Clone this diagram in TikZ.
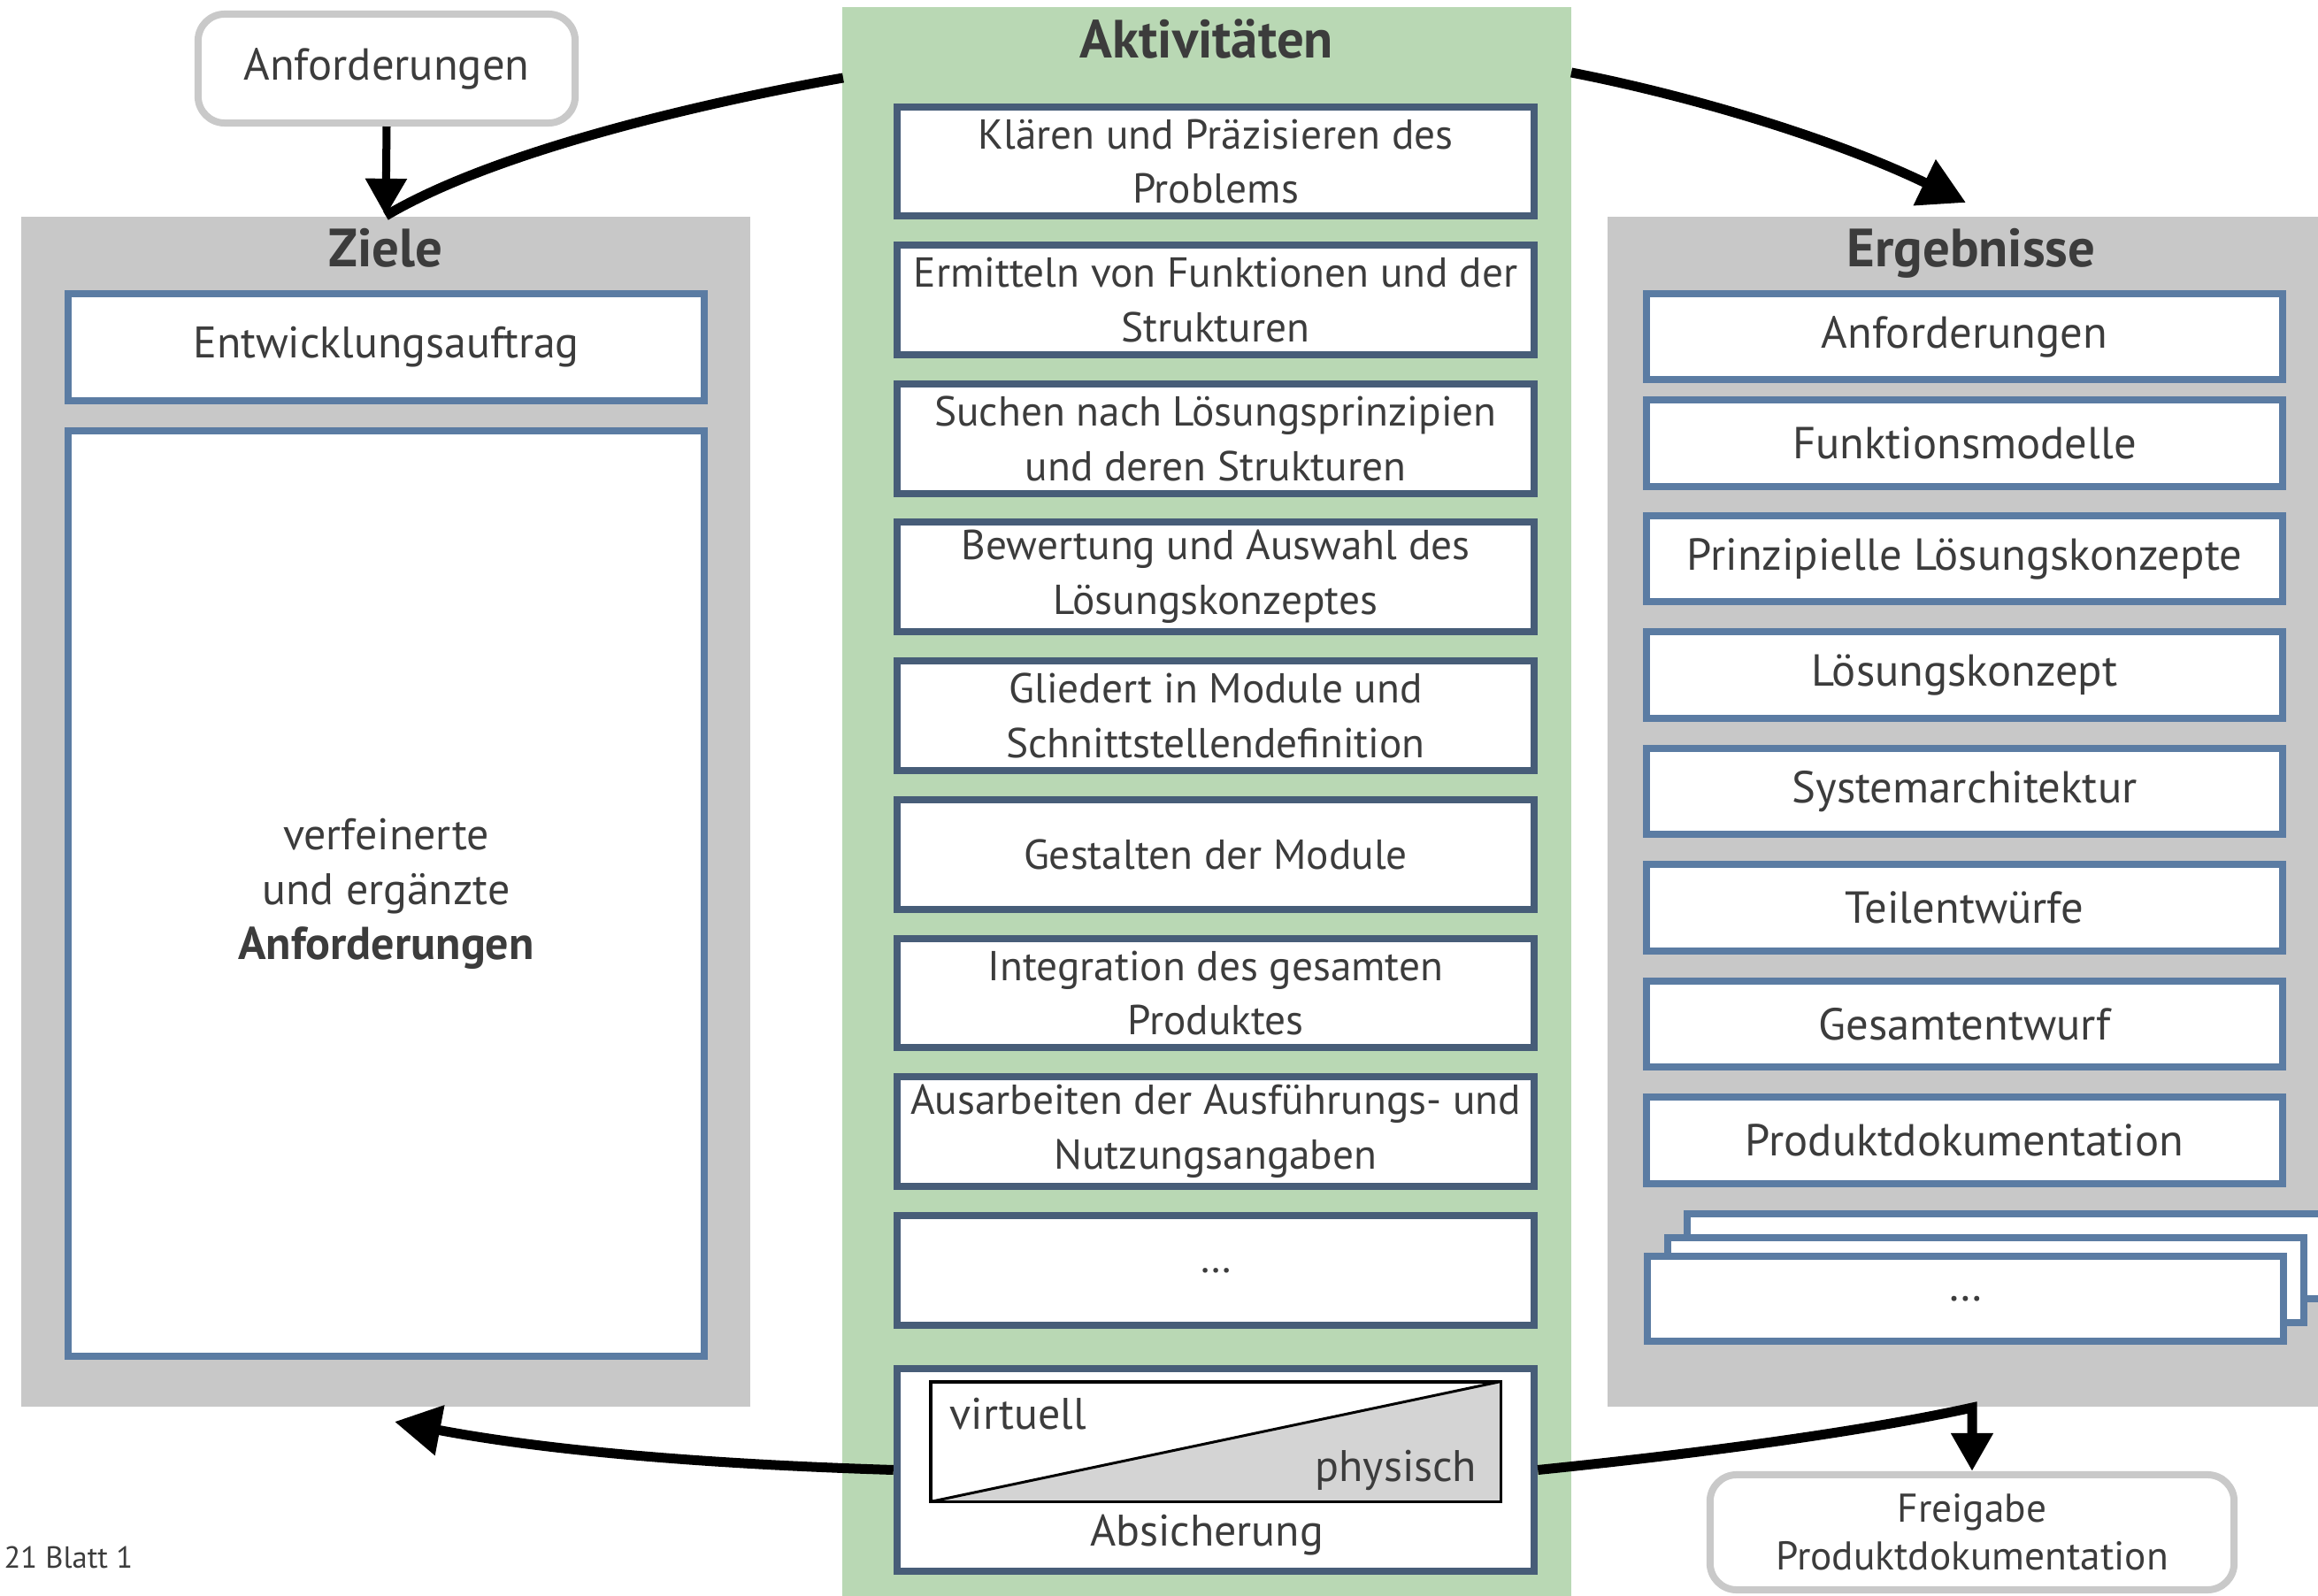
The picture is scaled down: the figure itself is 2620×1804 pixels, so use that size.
\documentclass[tikz,border=0pt]{standalone}
\usepackage{fontspec}
\setmainfont{PT Sans}
\usetikzlibrary{arrows.meta}
\definecolor{mypanelcolor}{HTML}{C8C8C8}
\definecolor{myaktcolor}{HTML}{B9D8B4}
\definecolor{myblue}{HTML}{5B7CA3}
\definecolor{mydarkblue}{HTML}{475D78}
\definecolor{mytextcolor}{HTML}{3C3C3C}
\definecolor{myinputcolor}{HTML}{C9C9C9}
\definecolor{myshadecolor}{HTML}{D4D4D4}

\begin{document}
\begin{tikzpicture}[x=0.01cm, y=-0.01cm,
  mypanel/.style={fill=mypanelcolor, rectangle, inner sep=0pt, minimum width=8.24cm},
  mytitle/.style={anchor=base, text=mytextcolor, font=\fontsize{17.3pt}{20pt}\selectfont\bfseries},
  mytext/.style={text=mytextcolor, align=center, font=\fontsize{14.2pt}{17.6pt}\selectfont},
  mybox/.style={mytext, draw=myblue, line width=0.08cm, fill=white, rectangle, inner sep=0pt, minimum width=7.19cm},
  myergbox/.style={mybox, minimum height=0.97cm, font=\fontsize{14.4pt}{17.6pt}\selectfont},
  myaktbox/.style={mytext, draw=mydarkblue, line width=0.08cm, fill=white, rectangle, inner sep=0pt, minimum width=7.20cm, minimum height=1.23cm, font=\fontsize{13.45pt}{17.6pt}\selectfont},
  myinput/.style={mytext, draw=myinputcolor, line width=0.08cm, fill=white, rounded corners=0.3cm, inner sep=0pt},
  mythin/.style={line width=0.09cm, -{Triangle[length=0.42cm, width=0.45cm]}},
  mycurve/.style={line width=0.11cm},
  mytip/.style={-{Triangle[length=0.52cm, width=0.55cm]}}
]%
\useasboundingbox (0,0) rectangle (2620,1804);%
% panels
\node[mypanel, minimum height=13.45cm] (ziele) at (436, 917.5) {};%
\node[mypanel, minimum height=13.45cm] (ergebnisse) at (2229, 917.5) {};%
\node[mypanel, fill=myaktcolor, minimum height=18.1cm] (akt) at (1364, 914) {};%
\node[mytitle] (zieletitel) at (436, 302) {Ziele};%
\node[mytitle] (ergtitel) at (2228, 302) {Ergebnisse};%
\node[mytitle] (akttitel) at (1364, 66) {Aktivitäten};%
% inputs and outputs
\node[myinput, minimum width=4.26cm, minimum height=1.23cm, font=\fontsize{14.4pt}{17.6pt}\selectfont] (anf) at (437, 77.5) {Anforderungen};%
\node[myinput, minimum width=5.92cm, minimum height=1.30cm, font=\fontsize{12.9pt}{15.4pt}\selectfont] (freigabe) at (2229, 1732) {Freigabe\\Produktdokumentation};%
% Ziele
\node[mybox, minimum height=1.21cm] (auftrag) at (436.5, 392.5) {Entwicklungsauftrag};%
\node[mybox, minimum height=10.46cm] (verfeinert) at (436.5, 1010) {verfeinerte\\und ergänzte\\{\fontsize{14.8pt}{17.6pt}\selectfont\bfseries Anforderungen}};%
% Aktivitaeten
\node[myaktbox] (akt1) at (1374, 182.5) {Klären und Präzisieren des\\Problems};%
\node[myaktbox] (akt2) at (1374, 339) {Ermitteln von Funktionen und der\\Strukturen};%
\node[myaktbox] (akt3) at (1374, 496) {Suchen nach Lösungsprinzipien\\und deren Strukturen};%
\node[myaktbox] (akt4) at (1374, 652) {Bewertung und Auswahl des\\Lösungskonzeptes};%
\node[myaktbox] (akt5) at (1374, 809) {Gliedert in Module und\\Schnittstellendefinition};%
\node[myaktbox] (akt6) at (1374, 966) {Gestalten der Module};%
\node[myaktbox] (akt7) at (1374, 1122.5) {Integration des gesamten\\Produktes};%
\node[myaktbox] (akt8) at (1374, 1279) {Ausarbeiten der Ausführungs- und\\Nutzungsangaben};%
\node[myaktbox] (akt9) at (1374, 1436) {\ldots};%
\node[myaktbox, minimum height=2.29cm] (absich) at (1374, 1661.5) {};%
\node[draw=black, line width=0.03cm, rectangle, inner sep=0pt, minimum width=6.42cm, minimum height=1.33cm] (vp) at (1374, 1629.5) {};%
\fill[myshadecolor] (vp.south west) -- (vp.north east) -- (vp.south east) -- cycle;%
\draw[line width=0.03cm] (vp.south west) -- (vp.north east);%
\draw[line width=0.03cm] (vp.south west) rectangle (vp.north east);%
\node[mytext, anchor=base west, inner sep=0pt] (virtuell) at (1073, 1615) {virtuell};%
\node[mytext, anchor=base east, inner sep=0pt] (physisch) at (1670, 1675) {physisch};%
\node[mytext, anchor=base, inner sep=0pt] (absichtext) at (1364, 1747) {Absicherung};%
% Ergebnisse
\node[myergbox] (erg1) at (2220.5, 380.5) {Anforderungen};%
\node[myergbox] (erg2) at (2220.5, 501) {Funktionsmodelle};%
\node[myergbox] (erg3) at (2220.5, 631.5) {Prinzipielle Lösungskonzepte};%
\node[myergbox] (erg4) at (2220.5, 763) {Lösungskonzept};%
\node[myergbox] (erg5) at (2220.5, 894.5) {Systemarchitektur};%
\node[myergbox] (erg6) at (2220.5, 1026) {Teilentwürfe};%
\node[myergbox] (erg7) at (2220.5, 1157.5) {Gesamtentwurf};%
\node[myergbox] (erg8) at (2220.5, 1289) {Produktdokumentation};%
\node[myergbox, minimum height=0.96cm] (ergc) at (2266.5, 1420) {};%
\node[myergbox, minimum height=0.96cm] (ergb) at (2244.5, 1447) {};%
\node[myergbox, minimum height=0.96cm] (erga) at (2221.5, 1468) {\ldots};%
% connectors
\coordinate (aktlinks) at (953, 88);%
\coordinate (aktrechts) at (1776, 82);%
\coordinate (ergspitze) at (2222, 229);%
\coordinate (zielespitze) at (446, 1607);%
\draw[mythin] (anf.south) -- (ziele.north);%
\draw[mycurve] (aktlinks) .. controls (800, 115) and (560, 170) .. (ziele.north);%
\draw[mycurve, mytip] (aktrechts) .. controls (1920, 110) and (2080, 160) .. (ergspitze);%
\draw[mycurve, mytip] (absich.west) .. controls (800, 1655) and (620, 1640) .. (zielespitze);%
\draw[mycurve, -{Triangle[length=0.43cm, width=0.45cm]}] (absich.east) .. controls (1950, 1640) and (2120, 1615) .. (freigabe.north |- ergebnisse.south) -- (freigabe.north);%
\node[anchor=base west, inner sep=0pt, text=mytextcolor, font=\fontsize{9.8pt}{12pt}\selectfont] (blatt) at (4, 1772) {21 Blatt 1};%
\end{tikzpicture}
\end{document}
